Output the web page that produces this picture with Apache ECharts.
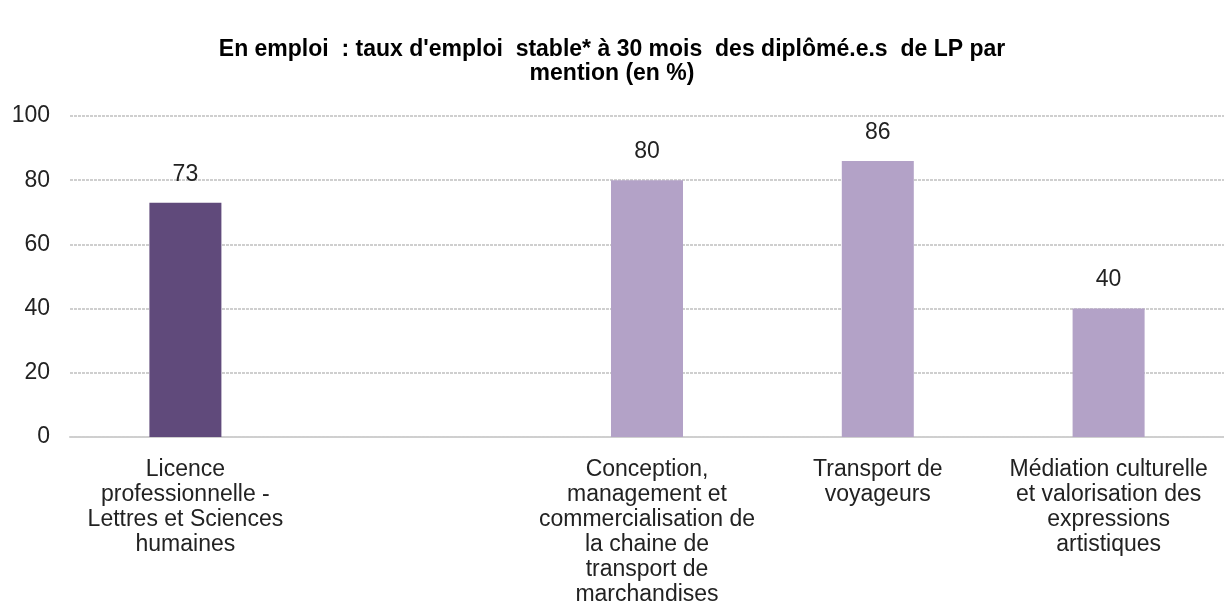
<!DOCTYPE html>
<html>
<head>
<meta charset="utf-8">
<script src="https://cdn.jsdelivr.net/npm/echarts@6/dist/echarts.min.js"></script>
<style>
  html, body { margin: 0; padding: 0; background: #fff; }
  #chart { width: 1224px; height: 615px; }
</style>
</head>
<body>
<div id="chart"></div>
<script>
// catégories (retours à la ligne comme dans l'original)
const categories = [
  "Licence\nprofessionnelle -\nLettres et Sciences\nhumaines",
  "",
  "Conception,\nmanagement et\ncommercialisation de\nla chaine de\ntransport de\nmarchandises",
  "Transport de\nvoyageurs",
  "Médiation culturelle\net valorisation des\nexpressions\nartistiques"
];
const values = [73, null, 80, 86, 40];
const barColors = ["#604a7b", "#b3a2c7", "#b3a2c7", "#b3a2c7", "#b3a2c7"];
const yTicks = [0, 20, 40, 60, 80, 100];

const chart = echarts.init(document.getElementById("chart"));

chart.setOption({
  animation: false,
  title: {
    text: "En emploi  : taux d'emploi  stable* à 30 mois  des diplômé.e.s  de LP par\nmention (en %)",
    left: "center",
    top: 33,
    textStyle: {
      fontFamily: "Liberation Sans, Arial, sans-serif",
      fontSize: 23,
      fontWeight: "bold",
      color: "#000",
      lineHeight: 24
    }
  },
  grid: {
    left: 70,
    right: 0,
    top: 116,
    bottom: 178,
    containLabel: false
  },
  xAxis: {
    type: "category",
    data: categories,
    axisTick: { show: false },
    axisLine: {
      show: true,
      lineStyle: { color: "#cfcfcf", width: 2, type: [3, 1] }
    },
    axisLabel: {
      interval: 0,
      margin: 20,
      color: "#222",
      fontFamily: "Liberation Sans, Arial, sans-serif",
      fontSize: 23,
      lineHeight: 25
    }
  },
  yAxis: {
    type: "value",
    min: yTicks[0],
    max: yTicks[yTicks.length - 1],
    interval: 20,
    axisLine: { show: false },
    axisTick: { show: false },
    axisLabel: {
      margin: 20,
      color: "#222",
      fontFamily: "Liberation Sans, Arial, sans-serif",
      fontSize: 23
    },
    splitLine: {
      lineStyle: { color: "#cfcfcf", width: 2, type: [3, 1] }
    }
  },
  series: [
    {
      type: "bar",
      barWidth: 72,
      data: values.map((v, i) => ({
        value: v,
        itemStyle: { color: barColors[i] }
      })),
      label: {
        show: true,
        position: "top",
        distance: 17,
        color: "#222",
        fontFamily: "Liberation Sans, Arial, sans-serif",
        fontSize: 23
      }
    }
  ]
});
</script>
</body>
</html>
